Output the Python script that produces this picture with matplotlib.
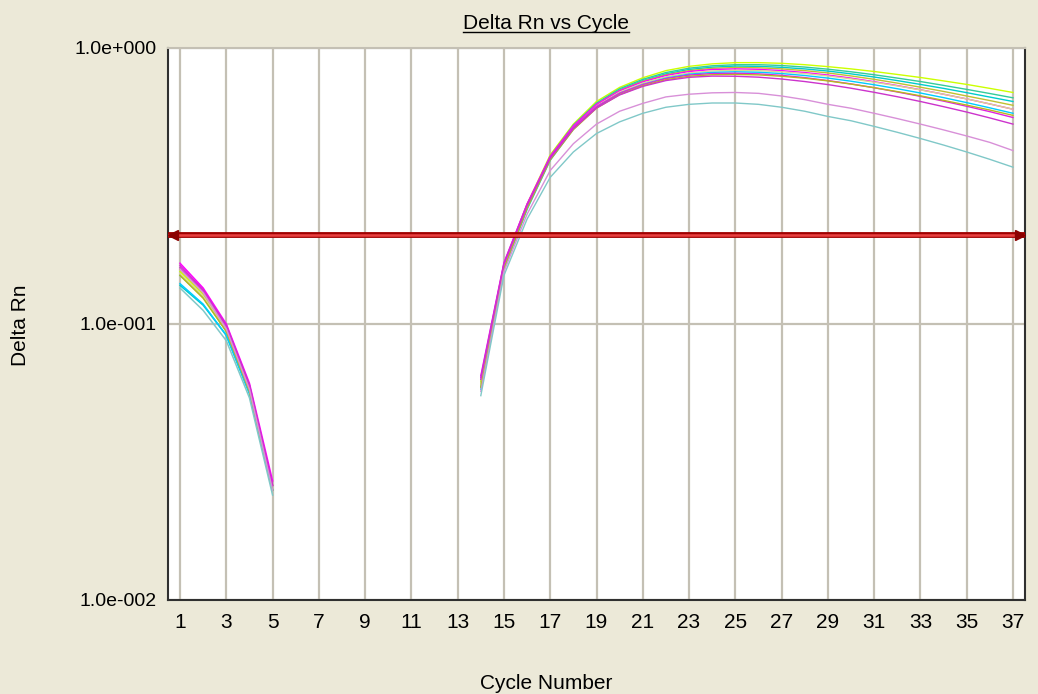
import numpy as np
import matplotlib
matplotlib.use('Agg')
import matplotlib.pyplot as plt

plt.rcParams['font.family'] = ['Liberation Sans', 'DejaVu Sans']

# cycles plotted (6-13 drop out: non-positive delta Rn on log axis)
cycles_early = [1, 2, 3, 4, 5]
cycles_late = list(range(14, 38))

rn_early = [
    [0.155, 0.128, 0.096, 0.058, 0.025],
    [0.150, 0.125, 0.094, 0.057, 0.025],
    [0.138, 0.117, 0.091, 0.056, 0.025],
    [0.158, 0.130, 0.097, 0.059, 0.026],
    [0.166, 0.135, 0.100, 0.061, 0.027],
    [0.152, 0.126, 0.095, 0.058, 0.025],
    [0.140, 0.118, 0.091, 0.056, 0.025],
    [0.163, 0.133, 0.099, 0.060, 0.026],
    [0.150, 0.124, 0.094, 0.057, 0.025],
    [0.160, 0.132, 0.098, 0.060, 0.026],
    [0.158, 0.130, 0.096, 0.058, 0.025],
    [0.135, 0.112, 0.087, 0.054, 0.024],
]

rn_late = [
    [0.062, 0.165, 0.272, 0.410, 0.530, 0.640, 0.720, 0.780, 0.828, 0.858, 0.876, 0.885,
     0.885, 0.880, 0.870, 0.856, 0.840, 0.822, 0.802, 0.782, 0.760, 0.738, 0.714, 0.690],
    [0.060, 0.162, 0.268, 0.405, 0.525, 0.632, 0.712, 0.770, 0.815, 0.845, 0.862, 0.870,
     0.870, 0.864, 0.853, 0.838, 0.820, 0.800, 0.778, 0.756, 0.732, 0.708, 0.684, 0.660],
    [0.059, 0.160, 0.265, 0.400, 0.518, 0.625, 0.705, 0.762, 0.806, 0.836, 0.852, 0.860,
     0.858, 0.851, 0.840, 0.825, 0.806, 0.785, 0.762, 0.738, 0.714, 0.689, 0.664, 0.640],
    [0.061, 0.163, 0.268, 0.402, 0.520, 0.625, 0.702, 0.758, 0.800, 0.828, 0.844, 0.850,
     0.848, 0.840, 0.828, 0.812, 0.792, 0.770, 0.746, 0.721, 0.696, 0.670, 0.645, 0.620],
    [0.064, 0.166, 0.272, 0.405, 0.522, 0.625, 0.700, 0.754, 0.795, 0.822, 0.836, 0.840,
     0.837, 0.828, 0.815, 0.798, 0.778, 0.755, 0.731, 0.706, 0.680, 0.654, 0.627, 0.600],
    [0.060, 0.161, 0.265, 0.398, 0.514, 0.616, 0.692, 0.746, 0.786, 0.812, 0.826, 0.830,
     0.828, 0.820, 0.808, 0.792, 0.773, 0.752, 0.729, 0.705, 0.680, 0.654, 0.627, 0.600],
    [0.058, 0.158, 0.260, 0.392, 0.508, 0.610, 0.685, 0.738, 0.778, 0.804, 0.816, 0.820,
     0.817, 0.808, 0.795, 0.778, 0.758, 0.736, 0.712, 0.687, 0.661, 0.634, 0.607, 0.580],
    [0.065, 0.167, 0.272, 0.402, 0.515, 0.614, 0.686, 0.737, 0.775, 0.798, 0.808, 0.810,
     0.806, 0.796, 0.781, 0.762, 0.741, 0.718, 0.693, 0.668, 0.642, 0.615, 0.588, 0.560],
    [0.059, 0.159, 0.262, 0.393, 0.506, 0.605, 0.678, 0.730, 0.768, 0.790, 0.800, 0.802,
     0.799, 0.790, 0.777, 0.760, 0.740, 0.718, 0.695, 0.671, 0.646, 0.621, 0.596, 0.570],
    [0.063, 0.164, 0.268, 0.398, 0.510, 0.606, 0.676, 0.726, 0.762, 0.783, 0.791, 0.790,
     0.784, 0.772, 0.756, 0.737, 0.715, 0.691, 0.666, 0.640, 0.613, 0.586, 0.558, 0.530],
    [0.057, 0.155, 0.250, 0.360, 0.450, 0.530, 0.590, 0.630, 0.665, 0.680, 0.688, 0.690,
     0.685, 0.670, 0.650, 0.625, 0.605, 0.580, 0.555, 0.530, 0.505, 0.480, 0.455, 0.425],
    [0.055, 0.150, 0.240, 0.340, 0.420, 0.490, 0.540, 0.580, 0.610, 0.625, 0.632, 0.632,
     0.625, 0.610, 0.590, 0.565, 0.545, 0.520, 0.495, 0.470, 0.445, 0.420, 0.395, 0.370],
]

well_colors = ['#CCFF00', '#33CC99', '#00CCCC', '#C0C030', '#FF00FF', '#D8D890',
               '#00CCFF', '#E020E0', '#B8B820', '#CC33CC', '#D890D8', '#80C8C8']

threshold = 0.21
xticks = list(range(1, 38, 2))
yticks = [0.01, 0.1, 1.0]
ytick_labels = ['1.0e-002', '1.0e-001', '1.0e+000']

bg = '#ECE9D8'
grid_c = '#C4C0B4'
fs = 15

fig = plt.figure(figsize=(10.38, 6.94), dpi=100, facecolor=bg)
ax = fig.add_axes([168/1038, 1-600/694, 857/1038, 552/694])
ax.set_facecolor('white')

for k in range(len(rn_late)):
    ax.plot(cycles_early, rn_early[k], color=well_colors[k], lw=1.1)
    ax.plot(cycles_late, rn_late[k], color=well_colors[k], lw=1.0)

# threshold line with arrows at both ends
ax.plot([0, 1], [threshold, threshold], transform=ax.get_yaxis_transform(),
        color='#A00000', lw=4.2, solid_capstyle='butt', zorder=5)
ax.plot([0, 1], [threshold, threshold], transform=ax.get_yaxis_transform(),
        color='#E84040', lw=1.8, solid_capstyle='butt', zorder=6)
ax.plot([0.006], [threshold], transform=ax.get_yaxis_transform(), marker='<',
        ms=7, color='#8B0000', clip_on=False, zorder=7)
ax.plot([0.994], [threshold], transform=ax.get_yaxis_transform(), marker='>',
        ms=7, color='#8B0000', clip_on=False, zorder=7)

ax.set_yscale('log')
ax.set_ylim(0.01, 1.0)
ax.set_xlim(0.48, 37.52)
ax.set_xticks(xticks)
ax.set_xticklabels([str(t) for t in xticks])
ax.set_yticks(yticks)
ax.set_yticklabels(ytick_labels)
ax.yaxis.set_minor_locator(matplotlib.ticker.NullLocator())
ax.tick_params(axis='both', length=0, labelsize=fs, colors='black')
ax.tick_params(axis='x', pad=9)
ax.tick_params(axis='y', pad=8, labelsize=14)
ax.grid(True, color=grid_c, lw=1.6)
ax.set_axisbelow(True)

ax.spines['left'].set_color('#303030')
ax.spines['bottom'].set_color('#303030')
ax.spines['right'].set_color('#303030')
ax.spines['top'].set_color(grid_c)
for s in ax.spines.values():
    s.set_linewidth(1.5)

fig.text(20/1038, 1-325/694, 'Delta Rn', rotation=90, ha='center', va='center', fontsize=fs)
fig.text(546/1038, 1-689/694, 'Cycle Number', ha='center', va='baseline', fontsize=fs)
title = fig.text(546/1038, 1-29/694, 'Delta Rn vs Cycle', ha='center', va='baseline', fontsize=fs)

# underline the title
fig.canvas.draw()
bb = title.get_window_extent(fig.canvas.get_renderer())
ybar = 1 - 32/694
fig.add_artist(plt.Line2D([bb.x0 / fig.bbox.width, bb.x1 / fig.bbox.width], [ybar, ybar],
                          transform=fig.transFigure, color='black', lw=1.0))

fig.savefig('out.png', dpi=100, facecolor=bg)
